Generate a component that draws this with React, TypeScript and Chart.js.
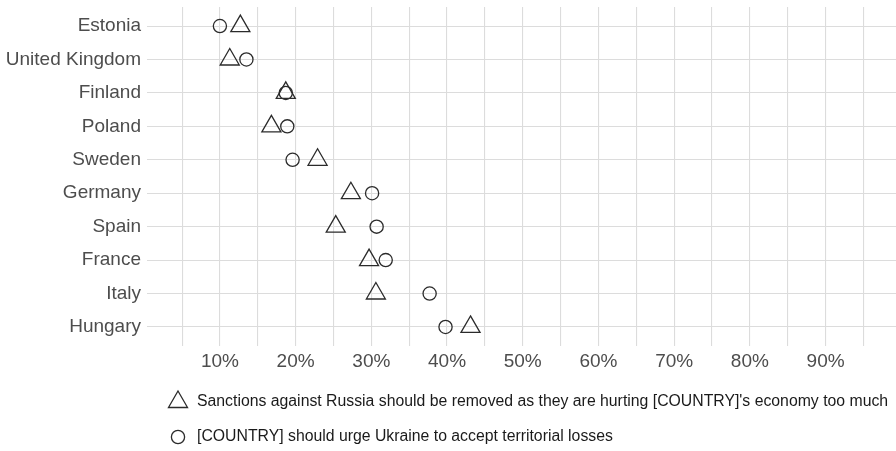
import React, { useEffect, useRef } from "react";
import { Chart, registerables } from "chart.js";

Chart.register(...registerables);

const countries = [
  "Estonia",
  "United Kingdom",
  "Finland",
  "Poland",
  "Sweden",
  "Germany",
  "Spain",
  "France",
  "Italy",
  "Hungary",
];

// Sanctions should be removed (triangle)
const sanctionsValues = [12.7, 11.3, 18.7, 16.8, 22.9, 27.3, 25.3, 29.7, 30.6, 43.1];
// Should urge Ukraine to accept territorial losses (circle)
const territoryValues = [10.0, 13.5, 18.7, 18.9, 19.6, 30.1, 30.7, 31.9, 37.7, 39.8];

const xTickValues = [5, 10, 15, 20, 25, 30, 35, 40, 45, 50, 55, 60, 65, 70, 75, 80, 85, 90, 95];
const xLabelledTicks = [10, 20, 30, 40, 50, 60, 70, 80, 90];

const seriesLabels = [
  "Sanctions against Russia should be removed as they are hurting [COUNTRY]'s economy too much",
  "[COUNTRY] should urge Ukraine to accept territorial losses",
];

const FONT = "'Liberation Sans', Arial, Helvetica, sans-serif";
const INK = "#2b2b2b";

const legendPlugin = {
  id: "stackedLegend",
  afterDraw(chart: any) {
    const ctx = chart.ctx;
    ctx.save();
    const rows = chart.data.datasets.map((ds: any) => ({
      label: ds.label,
      style: ds.pointStyle,
      radius: ds.pointRadius,
    }));
    const symX = 178;
    const textX = 197;
    const rowY = [402, 437];
    rows.forEach((r: any, i: number) => {
      const y = rowY[i];
      ctx.strokeStyle = INK;
      ctx.lineWidth = 1.3;
      ctx.beginPath();
      if (r.style === "triangle") {
        let rad = 0;
        const rr = r.radius;
        ctx.moveTo(symX + Math.sin(rad) * rr, y - Math.cos(rad) * rr);
        rad += (2 * Math.PI) / 3;
        ctx.lineTo(symX + Math.sin(rad) * rr, y - Math.cos(rad) * rr);
        rad += (2 * Math.PI) / 3;
        ctx.lineTo(symX + Math.sin(rad) * rr, y - Math.cos(rad) * rr);
        ctx.closePath();
      } else {
        ctx.arc(symX, y, r.radius, 0, Math.PI * 2);
      }
      ctx.stroke();
      ctx.fillStyle = "#1a1a1a";
      ctx.font = `15.8px ${FONT}`;
      ctx.textBaseline = "middle";
      ctx.textAlign = "left";
      ctx.fillText(r.label, textX, y);
    });
    ctx.restore();
  },
};

export default function App() {
  const canvasRef = useRef<HTMLCanvasElement | null>(null);

  useEffect(() => {
    if (!canvasRef.current) return;
    const chart = new Chart(canvasRef.current, {
      type: "scatter",
      data: {
        datasets: [
          {
            label: seriesLabels[0],
            data: sanctionsValues.map((v, i) => ({ x: v, y: i })),
            pointStyle: "triangle",
            pointRadius: 11,
            pointBorderWidth: 1.3,
            borderColor: INK,
            backgroundColor: "rgba(0,0,0,0)",
          },
          {
            label: seriesLabels[1],
            data: territoryValues.map((v, i) => ({ x: v, y: i })),
            pointStyle: "circle",
            pointRadius: 6.6,
            pointBorderWidth: 1.3,
            borderColor: INK,
            backgroundColor: "rgba(0,0,0,0)",
          },
        ],
      },
      options: {
        animation: false,
        responsive: false,
        maintainAspectRatio: false,
        layout: { autoPadding: false, padding: { top: 7, right: 0, left: 0, bottom: 0 } },
        plugins: {
          legend: { display: false },
          tooltip: { enabled: false },
        },
        scales: {
          x: {
            type: "linear",
            min: 0.37,
            max: 99.3,
            afterBuildTicks: (scale: any) => {
              scale.ticks = xTickValues.map((v) => ({ value: v }));
            },
            afterFit: (scale: any) => {
              scale.height = 105;
              scale.paddingLeft = 0;
              scale.paddingRight = 0;
            },
            grid: {
              color: "#dcdcdc",
              lineWidth: 1.1,
              drawTicks: false,
            },
            border: { display: false },
            ticks: {
              padding: 4,
              color: "#4d4d4d",
              font: { family: FONT, size: 19 },
              maxRotation: 0,
              autoSkip: false,
              callback: (v: any) => (xLabelledTicks.includes(Number(v)) ? `${v}%` : ""),
            },
          },
          y: {
            type: "linear",
            reverse: true,
            min: -0.57,
            max: 9.57,
            afterBuildTicks: (scale: any) => {
              scale.ticks = countries.map((_, i) => ({ value: i }));
            },
            afterFit: (scale: any) => {
              scale.width = 147;
              scale.paddingTop = 0;
              scale.paddingBottom = 0;
            },
            grid: {
              color: "#dcdcdc",
              lineWidth: 1.1,
              drawTicks: false,
            },
            border: { display: false },
            ticks: {
              padding: 6,
              color: "#4d4d4d",
              font: { family: FONT, size: 19 },
              autoSkip: false,
              callback: (v: any) => countries[Number(v)] ?? "",
            },
          },
        },
      },
      plugins: [legendPlugin],
    });
    return () => chart.destroy();
  }, []);

  return (
    <div style={{ position: "fixed", left: 0, top: 0, width: 896, height: 451, background: "#fff" }}>
      <canvas ref={canvasRef} width={896} height={451} style={{ width: 896, height: 451, display: "block" }} />
    </div>
  );
}
